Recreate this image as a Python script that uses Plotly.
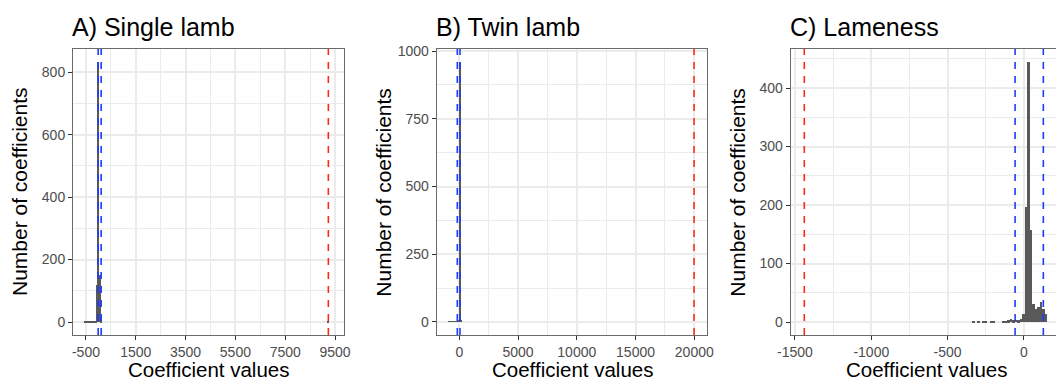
import plotly.graph_objects as go

W, H = 1056, 383

# ---------------- data ----------------
# A) Single lamb histogram (bin centres / counts)
a_centers = [-535, -490, -445, -400, -355, -310, -265, -220, -175, -130, -85, -40, 5, 50, 95, 9230]
a_counts = [1, 1, 1, 1, 1, 0, 1, 0, 1, 1, 2, 120, 833, 150, 6, 1]
a_binwidth = 45
a_red = [9232]
a_blue = [-10, 110]
a_xticks = [-500, 1500, 3500, 5500, 7500, 9500]
a_xlabels = ["-500", "1500", "3500", "5500", "7500", "9500"]
a_yticks = [0, 200, 400, 600, 800]

# B) Twin lamb
b_centers = [-900, -800, -700, -600, -500, -400, -300, -200, -100, 0, 100]
b_counts = [1, 1, 1, 1, 1, 2, 2, 3, 8, 959, 4]
b_binwidth = 100
b_red = [19980]
b_blue = [-170, 60]
b_xticks = [0, 5000, 10000, 15000, 20000]
b_xlabels = ["0", "5000", "10000", "15000", "20000"]
b_yticks = [0, 250, 500, 750, 1000]

# C) Lameness
c_centers = [-332.8, -300.0, -267.2, -250.8, -218.0, -201.6, -136.0, -119.6, -103.2, -86.8,
             -70.4, -54.0, -37.6, -21.2, -4.8, 11.6, 28.0, 44.4, 60.8, 77.2, 93.6, 110.0,
             126.4, 142.8]
c_counts = [1, 1, 1, 1, 1, 1, 2, 2, 3, 5, 3, 4, 3, 5, 13, 197, 444, 158, 31, 23, 26, 34, 23, 14]
c_binwidth = 16.4
c_red = [-1439]
c_blue = [-58, 127]
c_xticks = [-1500, -1000, -500, 0]
c_xlabels = ["-1500", "-1000", "-500", "0"]
c_yticks = [0, 100, 200, 300, 400]

titles = ["A) Single lamb", "B) Twin lamb", "C) Lameness"]
x_title = "Coefficient values"
y_title = "Number of coefficients"

# ---------------- layout geometry (px) ----------------
panels = [
    dict(left=73, right=344, xr=[-1020, 9860], xdt=2000, yr=[-41.6, 874.6], ydt=200, ymirror=True),
    dict(left=436.7, right=706.7, xr=[-1923, 21055], xdt=5000, yr=[-48, 1007.4], ydt=250, ymirror=True),
    dict(left=790.7, right=1056, xr=[-1528, 210], xdt=500, yr=[-22.2, 466.7], ydt=100, ymirror=False),
]
top_px, bot_px = 49, 335

def px(x):
    return x / W

def py(y):
    return 1 - y / H

FONT = "Liberation Sans, Arial, sans-serif"
GRID = "#EBEBEB"
BORDER = "#6A6A6A"

fig = go.Figure()

data = [
    (a_centers, a_counts, a_binwidth, a_red, a_blue, a_xticks, a_xlabels, a_yticks),
    (b_centers, b_counts, b_binwidth, b_red, b_blue, b_xticks, b_xlabels, b_yticks),
    (c_centers, c_counts, c_binwidth, c_red, c_blue, c_xticks, c_xlabels, c_yticks),
]

shapes = []
annotations = []
for i, (p, (cx, cy, bw, red, blue, xt, xl, yt)) in enumerate(zip(panels, data)):
    n = i + 1
    xa = "x" if n == 1 else f"x{n}"
    ya = "y" if n == 1 else f"y{n}"
    fig.add_trace(go.Bar(x=cx, y=cy, width=[bw] * len(cx), marker=dict(color="#595959", line=dict(width=0)),
                         xaxis=xa, yaxis=ya, showlegend=False))
    xkey = "xaxis" if n == 1 else f"xaxis{n}"
    ykey = "yaxis" if n == 1 else f"yaxis{n}"
    fig.update_layout({
        xkey: dict(domain=[px(p["left"]), px(p["right"])], range=p["xr"], anchor=ya,
                   tickmode="array", tickvals=xt, ticktext=xl,
                   showgrid=True, gridcolor=GRID, gridwidth=1.5, zeroline=False,
                   minor=dict(tickmode="array", tickvals=[v + p["xdt"] / 2 for v in xt] + [xt[0] - p["xdt"] / 2],
                              showgrid=True, gridcolor=GRID, gridwidth=0.8),
                   showline=True, linecolor=BORDER, linewidth=1, mirror=True,
                   ticks="outside", ticklen=4, tickcolor="#333333", tickwidth=1,
                   tickfont=dict(family=FONT, size=14, color="#4D4D4D"),
                   automargin=False, fixedrange=True),
        ykey: dict(domain=[py(bot_px), py(top_px)], range=p["yr"], anchor=xa,
                   tickmode="array", tickvals=yt, ticktext=[str(v) for v in yt],
                   showgrid=True, gridcolor=GRID, gridwidth=1.5, zeroline=False,
                   minor=dict(tickmode="array", tickvals=[v + p["ydt"] / 2 for v in yt],
                              showgrid=True, gridcolor=GRID, gridwidth=0.8),
                   showline=True, linecolor=BORDER, linewidth=1, mirror=p["ymirror"],
                   ticks="outside", ticklen=4, tickcolor="#333333", tickwidth=1,
                   tickfont=dict(family=FONT, size=14, color="#4D4D4D"),
                   automargin=False, fixedrange=True),
    })
    for v in red:
        shapes.append(dict(type="line", xref=xa, yref=f"{ya} domain", x0=v, x1=v, y0=0, y1=1,
                           line=dict(color="#FF2A12", width=1.6, dash="7px,7px")))
    for v in blue:
        shapes.append(dict(type="line", xref=xa, yref=f"{ya} domain", x0=v, x1=v, y0=0, y1=1,
                           line=dict(color="#1F3BFF", width=1.6, dash="7px,7px")))
    annotations.append(dict(text=titles[i], x=px(p["left"] - 3), y=py(27), xref="paper", yref="paper",
                            xanchor="left", yanchor="middle", showarrow=False,
                            font=dict(family=FONT, size=25, color="black")))
    annotations.append(dict(text=x_title, x=px(p["left"] + 135.5), y=0, xref="paper", yref="paper",
                            xanchor="center", yanchor="bottom", showarrow=False,
                            font=dict(family=FONT, size=20.5, color="black")))
    annotations.append(dict(text=y_title, x=px(p["left"] - 53), y=py((top_px + bot_px) / 2),
                            xref="paper", yref="paper", textangle=-90,
                            xanchor="center", yanchor="middle", showarrow=False,
                            font=dict(family=FONT, size=21, color="black")))

fig.update_layout(width=W, height=H, margin=dict(l=0, r=0, t=0, b=0),
                  paper_bgcolor="white", plot_bgcolor="white",
                  shapes=shapes, annotations=annotations, bargap=0)

fig.write_html("out.html")
